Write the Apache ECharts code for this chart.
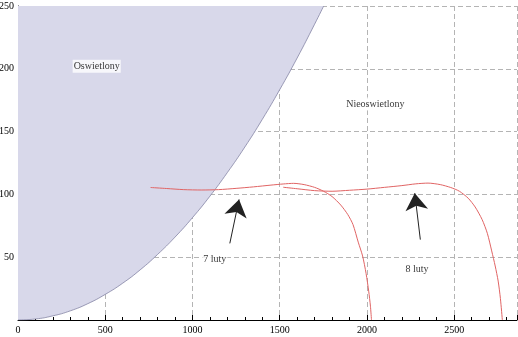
<!DOCTYPE html>
<html>
<head>
<meta charset="utf-8">
<script src="https://cdn.jsdelivr.net/npm/echarts@6/dist/echarts.min.js"></script>
<style>
html,body{margin:0;padding:0;background:#fff;}
#chart{width:518px;height:337px;}
</style>
</head>
<body>
<div id="chart"></div>
<script>
// Boundary of the lit region (Oswietlony)
const boundaryX = [0, 100, 200, 300, 400, 500, 600, 700, 800, 900, 1000, 1100, 1200, 1300, 1400, 1500, 1600, 1700, 1752];
const boundaryY = [0, 0.8, 3.3, 7.3, 13, 20.4, 29.3, 39.9, 52.2, 66, 81.5, 98.6, 117.4, 137.7, 159.7, 183.4, 208.6, 235.5, 250];

// "7 luty" trajectory
const luty7X = [760, 850, 950, 1050, 1150, 1250, 1350, 1450, 1520, 1580, 1640, 1700, 1750, 1800, 1850, 1890, 1920, 1950, 1975, 1995, 2010, 2020, 2026];
const luty7Y = [105.5, 104.7, 103.8, 103.5, 103.8, 104.8, 106, 107.4, 108.3, 108.8, 107.8, 105.6, 102.6, 98.3, 91.5, 84, 76, 62, 51, 37, 23, 11, 0];

// "8 luty" trajectory
const luty8X = [1520, 1600, 1700, 1800, 1900, 2000, 2100, 2200, 2280, 2350, 2420, 2480, 2530, 2580, 2620, 2660, 2690, 2715, 2735, 2752, 2765, 2776];
const luty8Y = [105.7, 104.5, 103, 102.5, 103.3, 104.2, 105.6, 107, 108.4, 109, 107.8, 105.5, 102.5, 97, 90, 80, 69, 55, 43, 31, 17, 0];

// Text labels
const labelTexts = ['Oswietlony', 'Nieoswietlony', '7 luty', '8 luty'];
const labelX = [451, 2048, 1128, 2287];
const labelY = [202, 172, 48, 40];

// Arrows: tail and tip points
const arrowTail = [[1214, 61], [2306, 64]];
const arrowTip = [[1267, 96], [2274, 101]];

// Axis ticks
const xTicks = [0, 500, 1000, 1500, 2000, 2500];
const yTicks = [50, 100, 150, 200, 250];

const zip = (xs, ys) => xs.map((x, i) => [x, ys[i]]);
const FONT = 'Liberation Serif';

const chart = echarts.init(document.getElementById('chart'), null, {renderer: 'canvas'});
chart.setOption({
  animation: false,
  backgroundColor: '#fff',
  grid: {left: 18, right: 1, top: 6, bottom: 17, containLabel: false, outerBoundsMode: 'none'},
  xAxis: {
    type: 'value', min: 0, max: 2860, interval: 500,
    axisLine: {show: true, lineStyle: {color: '#000', width: 1}},
    axisTick: {show: true, inside: true, length: 5, lineStyle: {color: '#000'}},
    minorTick: {show: true, splitNumber: 5, length: 3, lineStyle: {color: '#000'}},
    axisLabel: {
      fontFamily: FONT, fontSize: 10, color: '#000', margin: 5,
      showMaxLabel: false,
      formatter: v => xTicks.indexOf(v) >= 0 ? String(v) : ''
    },
    splitLine: {show: true, lineStyle: {color: '#b4b4b4', type: [5, 3], width: 1}}
  },
  yAxis: {
    type: 'value', min: 0, max: 250, interval: 50,
    axisLine: {show: true, lineStyle: {color: '#000', width: 1}},
    axisTick: {show: true, inside: true, length: 5, lineStyle: {color: '#000'}},
    minorTick: {show: true, splitNumber: 5, length: 3, lineStyle: {color: '#000'}},
    axisLabel: {
      fontFamily: FONT, fontSize: 10, color: '#000', margin: 4,
      formatter: v => yTicks.indexOf(v) >= 0 ? String(v) : ''
    },
    splitLine: {show: true, lineStyle: {color: '#b4b4b4', type: [5, 3], width: 1}}
  },
  series: [
    {
      type: 'line', data: zip(boundaryX, boundaryY), smooth: true,
      showSymbol: false, symbol: 'none', z: 1,
      lineStyle: {color: '#8484a4', width: 0.8},
      areaStyle: {origin: 'end', color: '#d8d8ea', opacity: 1}
    },
    {
      type: 'line', data: zip(luty7X, luty7Y), smooth: 0.25,
      symbol: 'none', z: 3,
      lineStyle: {color: '#e06464', width: 1}
    },
    {
      type: 'line', data: zip(luty8X, luty8Y), smooth: 0.25,
      symbol: 'none', z: 3,
      lineStyle: {color: '#e06464', width: 1},
      markLine: {
        silent: true, animation: false,
        symbol: ['none', 'arrow'], symbolSize: 17,
        label: {show: false},
        lineStyle: {color: '#222', width: 1, type: 'solid'},
        data: arrowTail.map((t, i) => [{coord: t}, {coord: arrowTip[i]}])
      }
    },
    {
      type: 'scatter', symbolSize: 0, z: 5,
      data: labelTexts.map((t, i) => [labelX[i], labelY[i], t]),
      label: {
        show: true, position: 'inside',
        fontFamily: FONT, fontSize: 10, color: '#000',
        formatter: p => p.value[2],
        backgroundColor: '#fff', padding: [2, 1, 1, 1]
      }
    }
  ]
});
</script>
</body>
</html>
